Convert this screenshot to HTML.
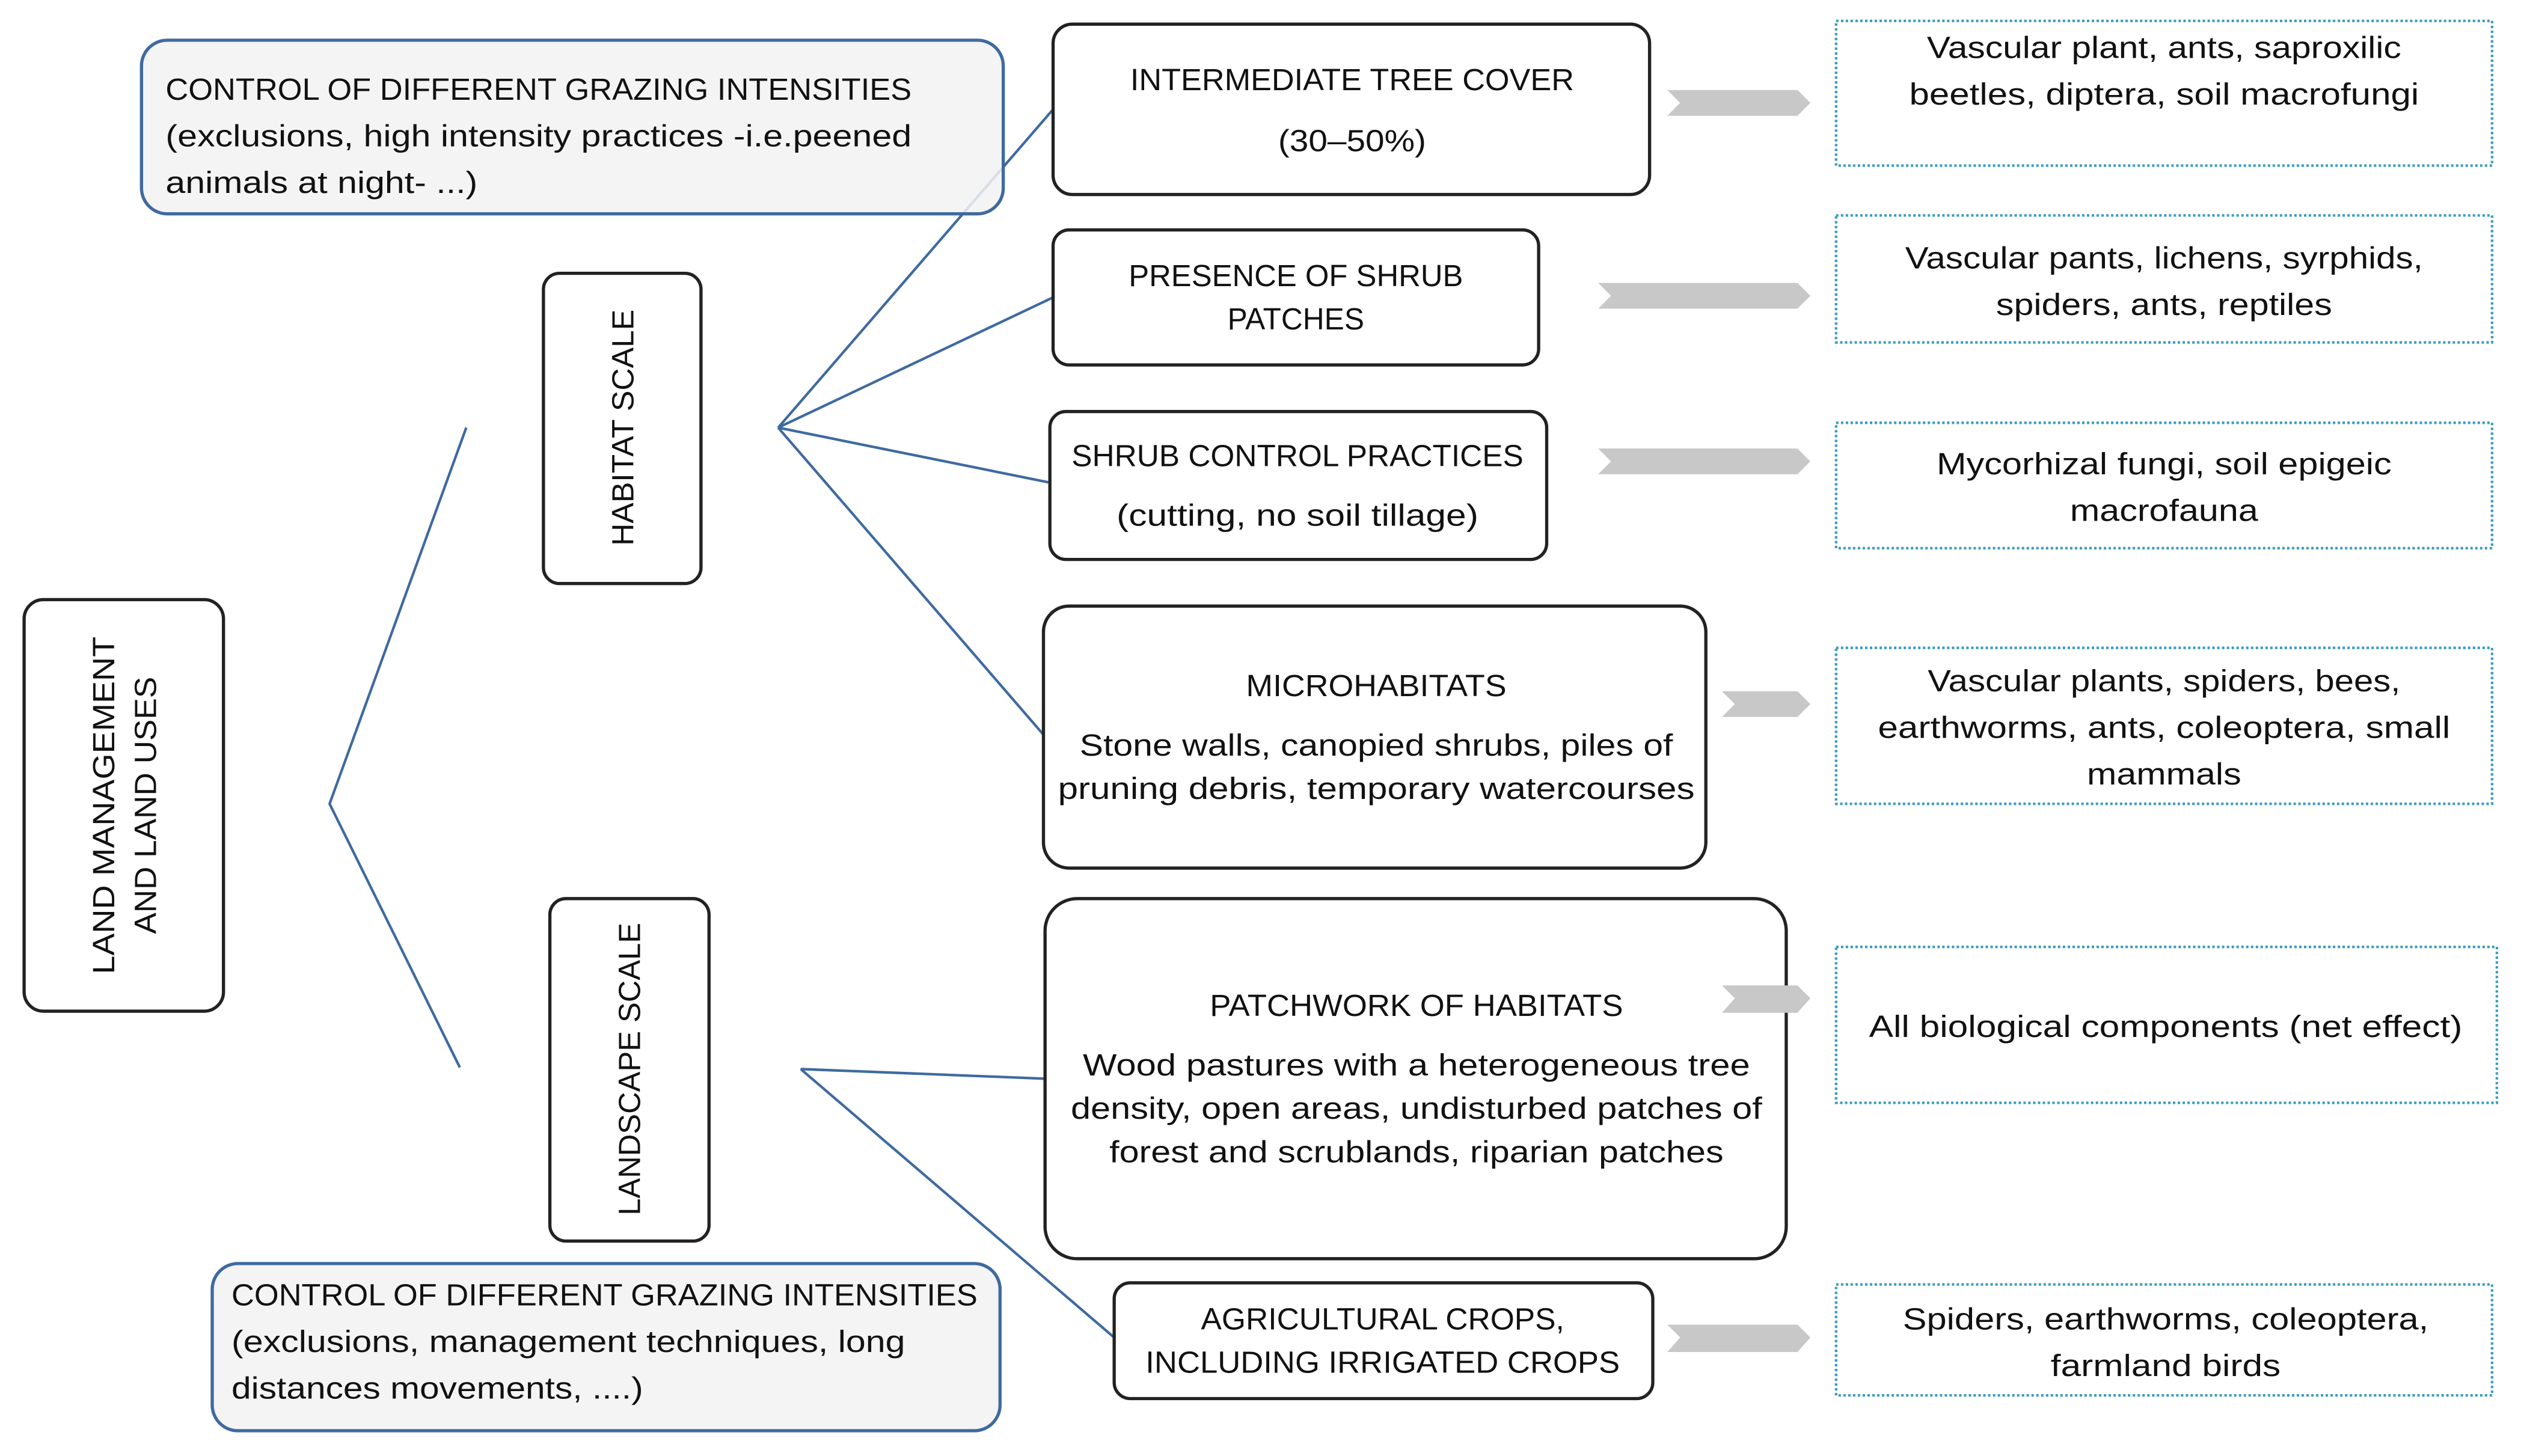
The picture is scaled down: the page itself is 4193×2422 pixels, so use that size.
<!DOCTYPE html>
<html><head><meta charset="utf-8"><style>
html,body{margin:0;padding:0;background:#fff;}
svg{display:block;}
text{font-family:"Liberation Sans",sans-serif;font-size:19px;fill:#111;}
</style></head><body>
<svg width="4193" height="2422" viewBox="0 0 1568 905.7" xmlns="http://www.w3.org/2000/svg">
<rect width="1568" height="906" fill="#fff"/>
<!-- connector lines -->
<g stroke="#3f6aa0" stroke-width="1.6" fill="none">
<polyline points="290,266 205,500 286,664"/>
<line x1="484" y1="266" x2="655" y2="68"/>
<line x1="484" y1="266" x2="655" y2="185"/>
<line x1="484" y1="266" x2="652" y2="300"/>
<line x1="484" y1="266" x2="649" y2="457"/>
<line x1="498" y1="665" x2="650" y2="671"/>
<line x1="498" y1="665" x2="693" y2="832"/>
</g>
<!-- control boxes -->
<g fill="#f2f2f2" fill-opacity="0.85" stroke="#3f6aa0" stroke-width="2">
<rect x="88" y="25" width="536" height="108" rx="16"/>
<rect x="132" y="786" width="490" height="104" rx="16"/>
</g>
<text x="103" y="62" textLength="464" lengthAdjust="spacingAndGlyphs">CONTROL OF DIFFERENT GRAZING INTENSITIES</text>
<text x="103" y="91" textLength="464" lengthAdjust="spacingAndGlyphs">(exclusions, high intensity practices -i.e.peened</text>
<text x="103" y="120" textLength="194" lengthAdjust="spacingAndGlyphs">animals at night- ...)</text>
<text x="144" y="812" textLength="464" lengthAdjust="spacingAndGlyphs">CONTROL OF DIFFERENT GRAZING INTENSITIES</text>
<text x="144" y="841" textLength="419" lengthAdjust="spacingAndGlyphs">(exclusions, management techniques, long</text>
<text x="144" y="870" textLength="256" lengthAdjust="spacingAndGlyphs">distances movements, ....)</text>
<!-- black boxes -->
<g fill="#fff" stroke="#222" stroke-width="2">
<rect x="15" y="373" width="124" height="256" rx="12"/>
<rect x="338" y="170" width="98" height="193" rx="10"/>
<rect x="342" y="559" width="99" height="213" rx="10"/>
<rect x="655" y="15" width="371" height="106" rx="12"/>
<rect x="655" y="143" width="302" height="84" rx="10"/>
<rect x="653" y="256" width="309" height="92" rx="10"/>
<rect x="649" y="377" width="412" height="163" rx="16"/>
<rect x="650" y="559" width="461" height="224" rx="20"/>
<rect x="693" y="798" width="335" height="72" rx="10"/>
</g>
<!-- rotated labels -->
<text transform="translate(71,501) rotate(-90)" text-anchor="middle" textLength="210" lengthAdjust="spacingAndGlyphs">LAND MANAGEMENT</text>
<text transform="translate(97,501) rotate(-90)" text-anchor="middle" textLength="160" lengthAdjust="spacingAndGlyphs">AND LAND USES</text>
<text transform="translate(394,266) rotate(-90)" text-anchor="middle" textLength="147" lengthAdjust="spacingAndGlyphs">HABITAT SCALE</text>
<text transform="translate(398,665) rotate(-90)" text-anchor="middle" textLength="182" lengthAdjust="spacingAndGlyphs">LANDSCAPE SCALE</text>
<!-- middle box texts -->
<g text-anchor="middle">
<text x="841" y="56" textLength="276" lengthAdjust="spacingAndGlyphs">INTERMEDIATE TREE COVER</text>
<text x="841" y="94" textLength="92" lengthAdjust="spacingAndGlyphs">(30–50%)</text>
<text x="806" y="178" textLength="208" lengthAdjust="spacingAndGlyphs">PRESENCE OF SHRUB</text>
<text x="806" y="205" textLength="85" lengthAdjust="spacingAndGlyphs">PATCHES</text>
<text x="807" y="290" textLength="281" lengthAdjust="spacingAndGlyphs">SHRUB CONTROL PRACTICES</text>
<text x="807" y="327" textLength="225" lengthAdjust="spacingAndGlyphs">(cutting, no soil tillage)</text>
<text x="856" y="433" textLength="162" lengthAdjust="spacingAndGlyphs">MICROHABITATS</text>
<text x="856" y="470" textLength="369" lengthAdjust="spacingAndGlyphs">Stone walls, canopied shrubs, piles of</text>
<text x="856" y="497" textLength="396" lengthAdjust="spacingAndGlyphs">pruning debris, temporary watercourses</text>
<text x="881" y="632" textLength="257" lengthAdjust="spacingAndGlyphs">PATCHWORK OF HABITATS</text>
<text x="881" y="669" textLength="415" lengthAdjust="spacingAndGlyphs">Wood pastures with a heterogeneous tree</text>
<text x="881" y="696" textLength="430" lengthAdjust="spacingAndGlyphs">density, open areas, undisturbed patches of</text>
<text x="881" y="723" textLength="382" lengthAdjust="spacingAndGlyphs">forest and scrublands, riparian patches</text>
<text x="860" y="827" textLength="226" lengthAdjust="spacingAndGlyphs">AGRICULTURAL CROPS,</text>
<text x="860" y="854" textLength="295" lengthAdjust="spacingAndGlyphs">INCLUDING IRRIGATED CROPS</text>
</g>
<!-- chevrons -->
<g fill="#c8c8c8">
<path d="M1037,56 L1118,56 L1126,64 L1118,72 L1037,72 L1045,64 Z"/>
<path d="M994,176 L1118,176 L1126,184 L1118,192 L994,192 L1002,184 Z"/>
<path d="M994,279 L1118,279 L1126,287 L1118,295 L994,295 L1002,287 Z"/>
<path d="M1071,430 L1118,430 L1126,438 L1118,446 L1071,446 L1079,438 Z"/>
<path d="M1071,613 L1118,613 L1126,621 L1118,630 L1071,630 L1079,621 Z"/>
<path d="M1037,824 L1118,824 L1126,832 L1118,841 L1037,841 L1045,832 Z"/>
</g>
<!-- dotted boxes -->
<g fill="none" stroke="#3a9cc0" stroke-width="1.6" stroke-dasharray="1.5,1.5">
<rect x="1142" y="13" width="408" height="90"/>
<rect x="1142" y="134" width="408" height="79"/>
<rect x="1142" y="263" width="408" height="78"/>
<rect x="1142" y="403" width="408" height="97"/>
<rect x="1142" y="589" width="411" height="97"/>
<rect x="1142" y="799" width="408" height="69"/>
</g>
<g text-anchor="middle">
<text x="1346" y="36" textLength="295" lengthAdjust="spacingAndGlyphs">Vascular plant, ants, saproxilic</text>
<text x="1346" y="65" textLength="317" lengthAdjust="spacingAndGlyphs">beetles, diptera, soil macrofungi</text>
<text x="1346" y="167" textLength="322" lengthAdjust="spacingAndGlyphs">Vascular pants, lichens, syrphids,</text>
<text x="1346" y="196" textLength="209" lengthAdjust="spacingAndGlyphs">spiders, ants, reptiles</text>
<text x="1346" y="295" textLength="283" lengthAdjust="spacingAndGlyphs">Mycorhizal fungi, soil epigeic</text>
<text x="1346" y="324" textLength="117" lengthAdjust="spacingAndGlyphs">macrofauna</text>
<text x="1346" y="430" textLength="294" lengthAdjust="spacingAndGlyphs">Vascular plants, spiders, bees,</text>
<text x="1346" y="459" textLength="356" lengthAdjust="spacingAndGlyphs">earthworms, ants, coleoptera, small</text>
<text x="1346" y="488" textLength="96" lengthAdjust="spacingAndGlyphs">mammals</text>
<text x="1347" y="645" textLength="369" lengthAdjust="spacingAndGlyphs">All biological components (net effect)</text>
<text x="1347" y="827" textLength="327" lengthAdjust="spacingAndGlyphs">Spiders, earthworms, coleoptera,</text>
<text x="1347" y="856" textLength="143" lengthAdjust="spacingAndGlyphs">farmland birds</text>
</g>
</svg>
</body></html>
